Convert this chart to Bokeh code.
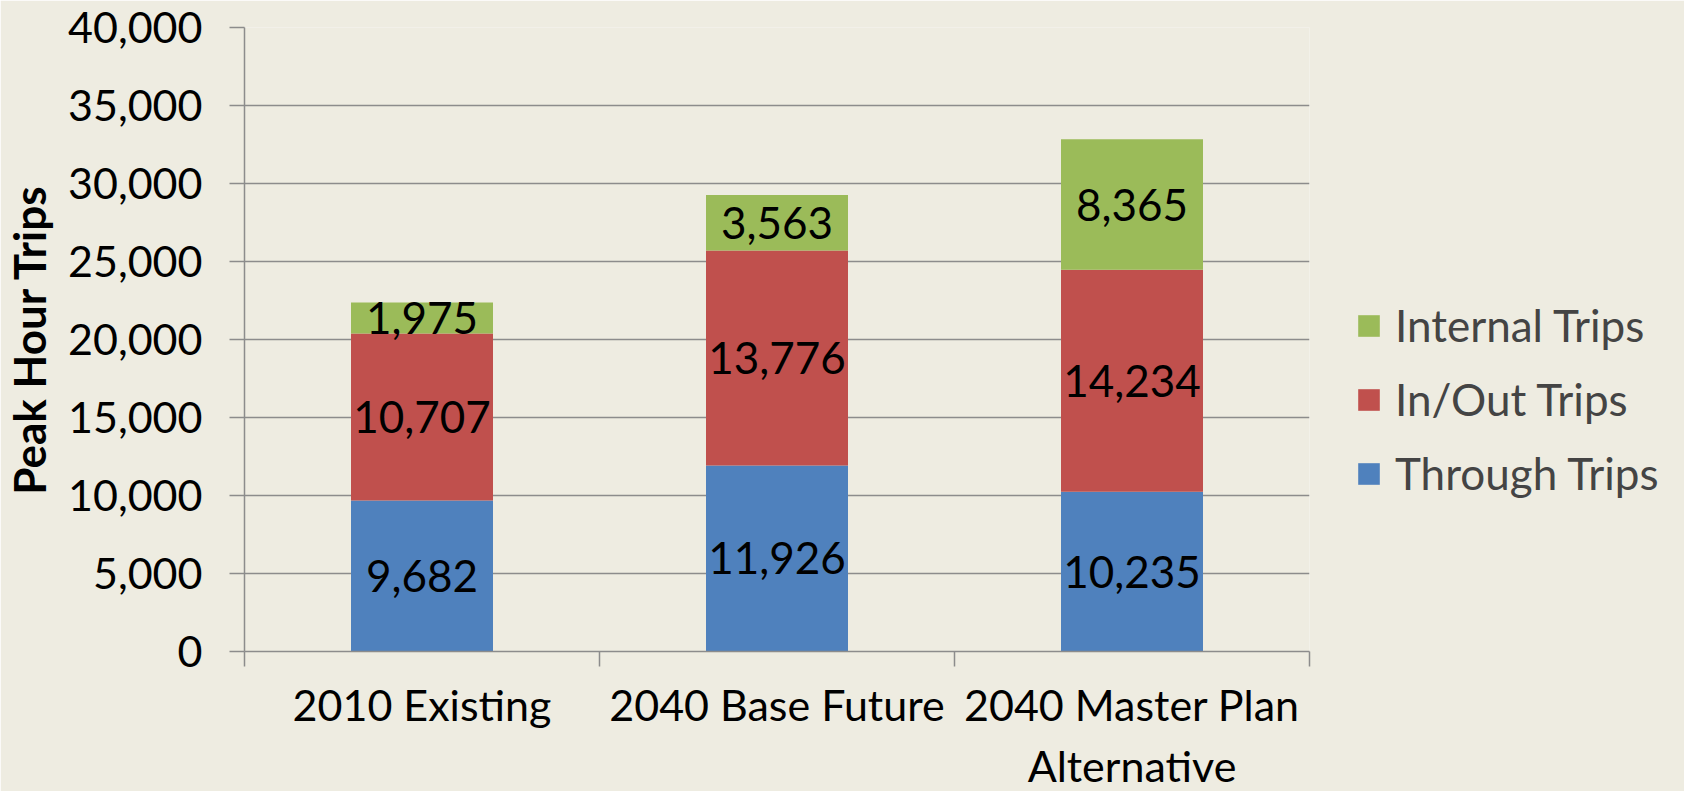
from bokeh.plotting import figure
from bokeh.models import (Range1d, FixedTicker, Legend, LegendItem, ColumnDataSource,
                          NumeralTickFormatter)
from bokeh.core.properties import value
from bokeh.embed import file_html
from bokeh.resources import INLINE

categories = ["2010 Existing", "2040 Base Future", "2040 Master Plan\nAlternative"]
through_trips = [9682, 11926, 10235]
inout_trips = [10707, 13776, 14234]
internal_trips = [1975, 3563, 8365]
series_names = ["Through Trips", "In/Out Trips", "Internal Trips"]
series_colors = ["#4F81BD", "#C0504D", "#9BBB59"]
y_ticks = [0, 5000, 10000, 15000, 20000, 25000, 30000, 35000, 40000]

FONT = "Lato"
BG = "#EEECE1"
GRID = "#8C8C8C"

xs = [i + 0.5 for i in range(len(categories))]
src = ColumnDataSource(dict(x=xs, through=through_trips, inout=inout_trips, internal=internal_trips))

p = figure(frame_width=1065, frame_height=624, output_backend="svg", toolbar_location=None,
           x_range=Range1d(0, len(categories)), y_range=Range1d(0, 40000),
           min_border_left=0, min_border_right=0, min_border_top=27, min_border_bottom=0)
p.background_fill_color = BG
p.border_fill_color = BG
p.outline_line_color = None

renderers = p.vbar_stack(["through", "inout", "internal"], x="x", width=0.4,
                         color=series_colors, line_color=None, source=src)

# data labels
lx, ly, lt = [], [], []
for i in range(len(categories)):
    base = 0
    for vals in (through_trips, inout_trips, internal_trips):
        v = vals[i]
        lx.append(xs[i])
        ly.append(base + v / 2)
        lt.append(f"{v:,}")
        base += v
p.text(x=lx, y=ly, text=lt, text_align="center", text_baseline="middle",
       text_font=value(FONT), text_font_size="44px", text_color="black")

# y axis
p.yaxis.ticker = FixedTicker(ticks=y_ticks)
p.yaxis.formatter = NumeralTickFormatter(format="0,0")
p.yaxis.major_tick_out = 15
p.yaxis.major_tick_in = 0
p.yaxis.minor_tick_line_color = None
p.yaxis.major_tick_line_color = GRID
p.yaxis.major_tick_line_width = 1.5
p.yaxis.axis_line_color = GRID
p.yaxis.axis_line_width = 1.5
p.yaxis.major_label_text_font = FONT
p.yaxis.major_label_text_font_size = "43px"
p.yaxis.major_label_text_color = "black"
p.yaxis.major_label_standoff = 27
p.yaxis.axis_label = "Peak Hour Trips"
p.yaxis.axis_label_text_font = FONT
p.yaxis.axis_label_text_font_style = "bold"
p.yaxis.axis_label_text_font_size = "44px"
p.yaxis.axis_label_text_color = "black"
p.yaxis.axis_label_standoff = 10

p.ygrid.ticker = FixedTicker(ticks=y_ticks)
p.ygrid.grid_line_color = GRID
p.ygrid.grid_line_width = 1.5
p.xgrid.grid_line_color = None

# x axis
p.xaxis.ticker = FixedTicker(ticks=xs, minor_ticks=list(range(len(categories) + 1)))
p.xaxis.major_label_overrides = {x: c for x, c in zip(xs, categories)}
p.xaxis.major_tick_line_color = None
p.xaxis.minor_tick_out = 15
p.xaxis.minor_tick_in = 0
p.xaxis.minor_tick_line_color = GRID
p.xaxis.minor_tick_line_width = 1.5
p.xaxis.axis_line_color = GRID
p.xaxis.axis_line_width = 1.5
p.xaxis.major_label_text_font = FONT
p.xaxis.major_label_text_font_size = "43px"
p.xaxis.major_label_text_color = "black"
p.xaxis.major_label_standoff = 12

legend = Legend(items=[LegendItem(label=series_names[k], renderers=[renderers[k]]) for k in (2, 1, 0)],
                location=(46, 152), glyph_width=27, glyph_height=27, label_standoff=13,
                spacing=22, padding=0, margin=0, label_text_font=FONT, label_text_font_size="44px",
                background_fill_alpha=0, border_line_color=None)
p.add_layout(legend, "right")

html = file_html(p, INLINE)
html = html.replace("<body>", '<body style="background-color:%s">' % BG, 1)
open("out.html", "w").write(html)
